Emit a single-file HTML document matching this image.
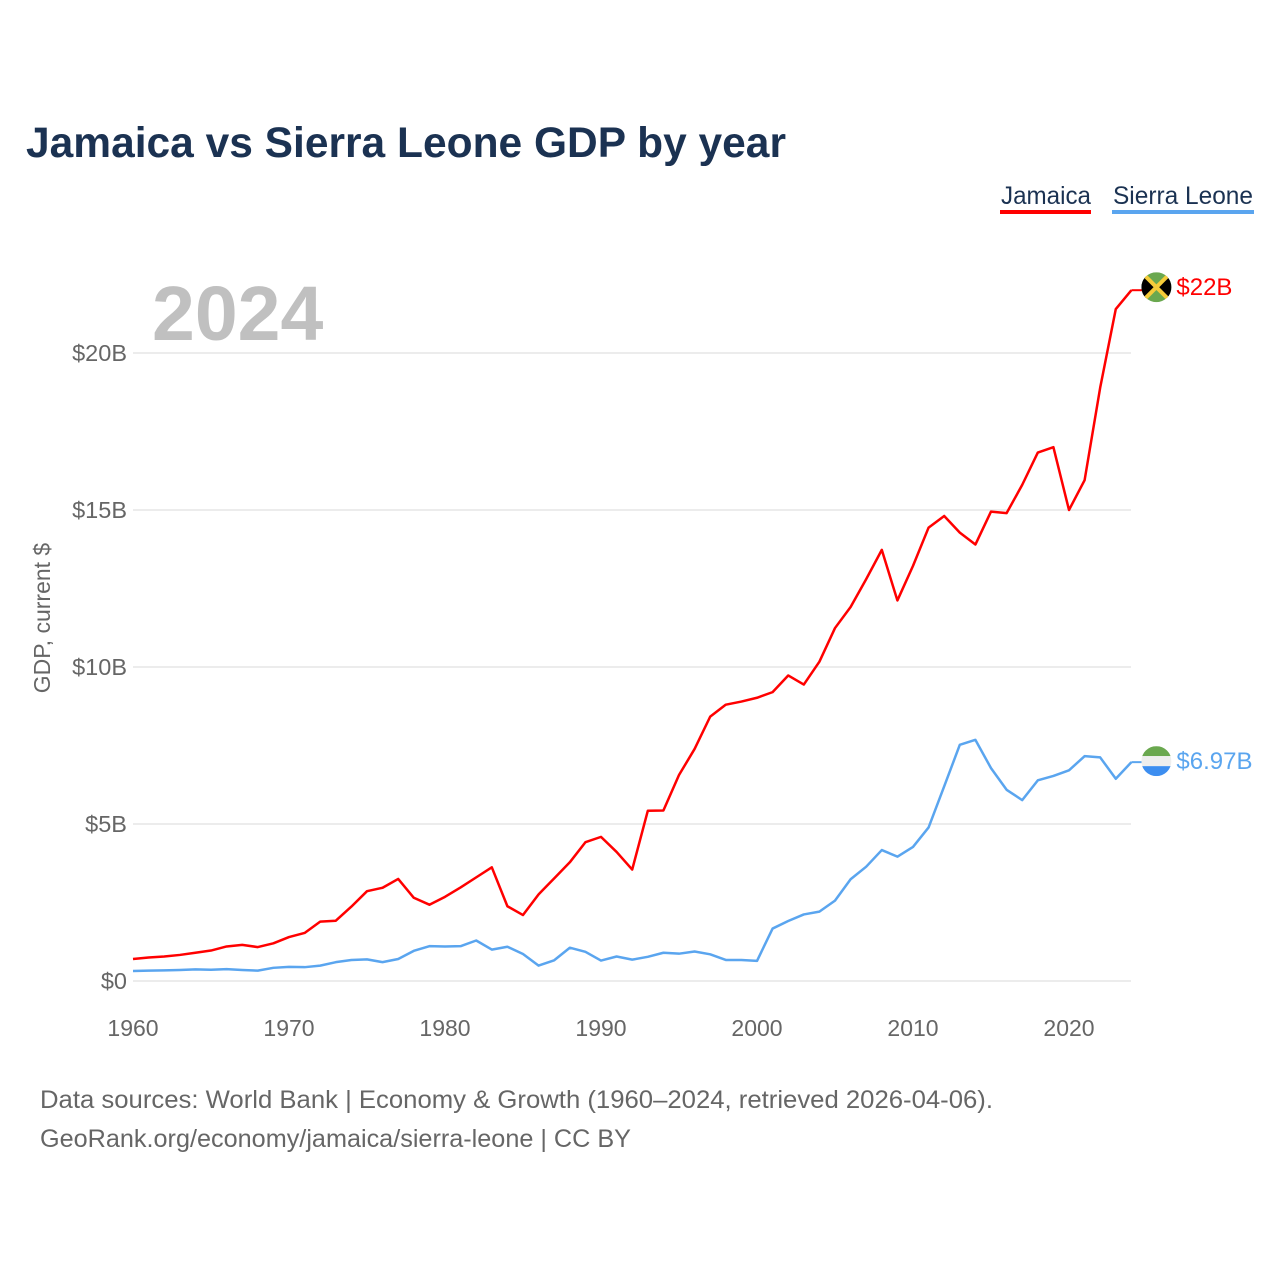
<!DOCTYPE html>
<html><head><meta charset="utf-8"><style>
body{margin:0;background:#fff;font-family:"Liberation Sans",sans-serif;}
#c{position:relative;width:1280px;height:1280px;overflow:hidden;}
</style></head><body>
<div id="c">
<svg id="s" width="1280" height="1280" xmlns="http://www.w3.org/2000/svg" style="font-family:'Liberation Sans',sans-serif">
<text x="26" y="157" font-size="43" font-weight="bold" fill="#1b3252" textLength="760" lengthAdjust="spacingAndGlyphs">Jamaica vs Sierra Leone GDP by year</text>
<g><text x="1001" y="204" font-size="25" fill="#1b3252" textLength="90" lengthAdjust="spacingAndGlyphs">Jamaica</text><rect x="1000" y="210" width="91" height="4" fill="#ff0000"/></g>
<g><text x="1113" y="204" font-size="25" fill="#1b3252" textLength="140" lengthAdjust="spacingAndGlyphs">Sierra Leone</text><rect x="1112" y="210" width="142" height="4" fill="#5aa5ef"/></g>
<text x="152" y="340" font-size="77" font-weight="bold" fill="#c0c0c0">2024</text>
<text transform="translate(50,618) rotate(-90)" text-anchor="middle" font-size="23" fill="#666">GDP, current $</text>
<g id="grid"></g><g id="yt"></g><g id="xt"></g><g id="lines"></g>
<text x="40" y="1108" font-size="25" fill="#666" textLength="953" lengthAdjust="spacingAndGlyphs">Data sources: World Bank | Economy &amp; Growth (1960–2024, retrieved 2026-04-06).</text>
<text x="40" y="1147" font-size="25" fill="#666" textLength="591" lengthAdjust="spacingAndGlyphs">GeoRank.org/economy/jamaica/sierra-leone | CC BY</text>
</svg></div>
<script>
const years=[];for(let y=1960;y<=2024;y++)years.push(y);
const jamaica=[0.70,0.75,0.78,0.83,0.90,0.97,1.10,1.15,1.08,1.20,1.40,1.53,1.89,1.92,2.37,2.86,2.97,3.25,2.65,2.43,2.68,2.98,3.30,3.62,2.38,2.10,2.76,3.27,3.78,4.42,4.59,4.11,3.55,5.42,5.43,6.56,7.39,8.42,8.80,8.90,9.02,9.20,9.73,9.44,10.17,11.24,11.91,12.8,13.73,12.12,13.22,14.44,14.81,14.28,13.90,14.95,14.90,15.80,16.83,17.0,15.0,15.95,18.9,21.4,22.0];
const sierra=[0.32,0.33,0.34,0.35,0.37,0.36,0.38,0.35,0.33,0.42,0.45,0.44,0.49,0.60,0.67,0.69,0.60,0.70,0.96,1.11,1.10,1.11,1.29,1.00,1.09,0.86,0.49,0.66,1.06,0.93,0.65,0.78,0.68,0.77,0.90,0.87,0.94,0.85,0.67,0.67,0.64,1.67,1.91,2.12,2.21,2.56,3.24,3.64,4.17,3.96,4.27,4.89,6.20,7.52,7.68,6.78,6.09,5.76,6.39,6.53,6.71,7.16,7.12,6.44,6.97];
const yTicks=[0,5,10,15,20];
const yTickLabels=["$0","$5B","$10B","$15B","$20B"];
const xTicks=[1960,1970,1980,1990,2000,2010,2020];
const endLabels=["$22B","$6.97B"];
const NS="http://www.w3.org/2000/svg";
const X=v=>133+(v-1960)*15.6, Y=v=>981-v*31.4;
function mk(t,a,p){const e=document.createElementNS(NS,t);for(const k in a)e.setAttribute(k,a[k]);p.appendChild(e);return e;}
const grid=document.getElementById('grid'),yt=document.getElementById('yt'),xt=document.getElementById('xt'),lines=document.getElementById('lines');
yTicks.forEach((v,i)=>{
 const l=mk('line',{x1:133,x2:1131,y1:Y(v),y2:Y(v),stroke:'#e6e6e6','stroke-width':1.5},grid);
 
 
 const t=mk('text',{x:127,y:Y(v)+8,'text-anchor':'end','font-size':23.5,fill:'#666'},yt);
 t.textContent=yTickLabels[i];
 
 
});
xTicks.forEach(v=>{
 const t=mk('text',{x:X(v),y:1036,'text-anchor':'middle','font-size':23,fill:'#666'},xt);
 t.textContent=v;
 
 
});
function series(data,color,name,label,flag,dy){
 const p=mk('polyline',{points:data.map((v,i)=>X(years[i])+','+Y(v)).join(' '),fill:'none',stroke:color,'stroke-width':2.5,'stroke-linejoin':'round'},lines);
 
 
 const lv=data[data.length-1],lx=X(years[years.length-1]),ly=Y(lv);
 mk('line',{x1:lx,x2:lx+11,y1:ly,y2:ly,stroke:color,'stroke-width':2},lines);
 const g=mk('g',{},lines);
 
 
 const cx=lx+25, cy=ly+dy;
 const cp=mk('clipPath',{id:'cp'+name},g);mk('circle',{cx:cx,cy:cy,r:15},cp);
 const gg=mk('g',{'clip-path':'url(#cp'+name+')'},g);
 if(flag==='jm'){
  mk('rect',{x:cx-15,y:cy-15,width:30,height:30,fill:'#6aa84f'},gg);
  mk('polygon',{points:`${cx-15},${cy-15} ${cx},${cy} ${cx-15},${cy+15}`,fill:'#000'},gg);
  mk('polygon',{points:`${cx+15},${cy-15} ${cx},${cy} ${cx+15},${cy+15}`,fill:'#000'},gg);
  mk('line',{x1:cx-15,y1:cy-15,x2:cx+15,y2:cy+15,stroke:'#f5cc3a','stroke-width':4},gg);
  mk('line',{x1:cx+15,y1:cy-15,x2:cx-15,y2:cy+15,stroke:'#f5cc3a','stroke-width':4},gg);
 }else{
  mk('rect',{x:cx-15,y:cy-15,width:30,height:10,fill:'#6aa84f'},gg);
  mk('rect',{x:cx-15,y:cy-5,width:30,height:10,fill:'#eeeeee'},gg);
  mk('rect',{x:cx-15,y:cy+5,width:30,height:10,fill:'#3d8ef0'},gg);
 }
 const t=mk('text',{x:lx+45,y:cy+8,'font-size':24,fill:color},lines);
 t.textContent=label;
 
 
}
series(jamaica,'#ff0000','jamaica',endLabels[0],'jm',-3);
series(sierra,'#5aa5ef','sierra-leone',endLabels[1],'sl',-1);
</script>
</body></html>
